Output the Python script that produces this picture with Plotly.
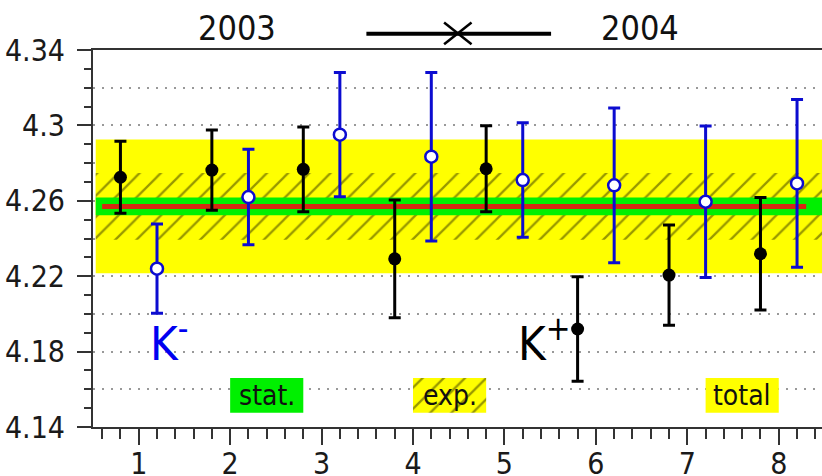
import plotly.graph_objects as go

# Measurements per run: K+ (filled black) and K- (open blue)
kplus_x = [0.8, 1.8, 2.8, 3.8, 4.8, 5.8, 6.8, 7.8]
kplus_y = [4.2725, 4.2763, 4.2767, 4.2292, 4.2770, 4.1920, 4.2206, 4.2319]
kplus_err = [0.0191, 0.0213, 0.0225, 0.0312, 0.0228, 0.0277, 0.0266, 0.0298]

kminus_x = [1.2, 2.2, 3.2, 4.2, 5.2, 6.2, 7.2, 8.2]
kminus_y = [4.2240, 4.2620, 4.2951, 4.2834, 4.2710, 4.2682, 4.2595, 4.2692]
kminus_err = [0.0237, 0.0253, 0.0329, 0.0447, 0.0304, 0.0410, 0.0402, 0.0445]

# Combined average and its uncertainty bands
mean_value = 4.257
stat_err = 0.0047
exp_err = 0.0177
total_err = 0.0355

year_labels = ["2003", "2004"]
band_labels = ["stat.", "exp.", "total"]

FONT = "Liberation Sans Narrow, Arial Narrow, DejaVu Sans Condensed, sans-serif"
YELLOW = "#ffff00"
GREEN = "#00f000"
BLUE = "#0c0cd0"
RED = "#d42a12"
HATCH = "#303000"
HATCH_PATTERN = dict(shape="/", fgcolor=HATCH, bgcolor=YELLOW, size=15, solidity=0.15)

x_lo, x_hi = 0.53, 8.6
line_lo, line_hi = 0.6, 8.3


def band(center, half, x0, x1):
    return ([x0, x1, x1, x0, x0],
            [center - half, center - half, center + half, center + half, center - half])


fig = go.Figure()

# total uncertainty band
bx, by = band(mean_value, total_err, x_lo, x_hi)
fig.add_trace(go.Scatter(x=bx, y=by, fill="toself", fillcolor=YELLOW,
                         line=dict(width=0), mode="lines", hoverinfo="skip"))
# experimental (hatched) band
bx, by = band(mean_value, exp_err, x_lo, x_hi)
fig.add_trace(go.Scatter(x=bx, y=by, fill="toself", fillcolor=YELLOW,
                         fillpattern=HATCH_PATTERN,
                         line=dict(width=0), mode="lines", hoverinfo="skip"))
# statistical band
bx, by = band(mean_value, stat_err, x_lo, x_hi)
fig.add_trace(go.Scatter(x=bx, y=by, fill="toself", fillcolor=GREEN,
                         line=dict(width=0), mode="lines", hoverinfo="skip"))
# average line
fig.add_trace(go.Scatter(x=[line_lo, line_hi], y=[mean_value, mean_value], mode="lines",
                         line=dict(color=RED, width=5), hoverinfo="skip"))

# legend boxes for the three bands
box_y0, box_y1 = 4.1476, 4.166
box_x = [(2.0, 2.8), (4.0, 4.8), (7.2, 8.0)]
box_fill = [GREEN, YELLOW, YELLOW]
for i, (x0, x1) in enumerate(box_x):
    kw = {}
    if band_labels[i] == "exp.":
        kw["fillpattern"] = HATCH_PATTERN
    fig.add_trace(go.Scatter(x=[x0, x1, x1, x0, x0], y=[box_y0, box_y0, box_y1, box_y1, box_y0],
                             fill="toself", fillcolor=box_fill[i], line=dict(width=0),
                             mode="lines", hoverinfo="skip", **kw))
    fig.add_annotation(x=(x0 + x1) / 2, y=(box_y0 + box_y1) / 2, text=band_labels[i],
                       showarrow=False, font=dict(family=FONT, size=28, color="#111"),
                       xanchor="center", yanchor="middle")

# data points
fig.add_trace(go.Scatter(
    x=kplus_x, y=kplus_y, mode="markers",
    marker=dict(symbol="circle", size=13, color="black"),
    error_y=dict(type="data", array=kplus_err, color="black", thickness=3, width=6)))
fig.add_trace(go.Scatter(
    x=kminus_x, y=kminus_y, mode="markers",
    marker=dict(symbol="circle", size=12, color="white", line=dict(color=BLUE, width=2.5)),
    error_y=dict(type="data", array=kminus_err, color=BLUE, thickness=3, width=6)))

# K labels
fig.add_annotation(x=1.1, y=4.186, text="K<sup>-</sup>", showarrow=False,
                   xanchor="left", yanchor="middle",
                   font=dict(family=FONT, size=47, color="#0000f0"))
fig.add_annotation(x=5.13, y=4.186, text="K<sup>+</sup>", showarrow=False,
                   xanchor="left", yanchor="middle",
                   font=dict(family=FONT, size=47, color="black"))

# year labels and the separator with a cross above the frame
for xpos, label in zip([2.07, 6.48], year_labels):
    fig.add_annotation(x=xpos, y=1.058, yref="paper", text=label, showarrow=False,
                       xanchor="center", yanchor="middle",
                       font=dict(family=FONT, size=34, color="#111"))
fig.add_shape(type="line", x0=3.49, x1=5.51, y0=1.043, y1=1.043, yref="paper",
              line=dict(color="black", width=4))
fig.add_shape(type="line", x0=4.34, x1=4.64, y0=1.015, y1=1.073, yref="paper",
              line=dict(color="black", width=2.5))
fig.add_shape(type="line", x0=4.34, x1=4.64, y0=1.073, y1=1.015, yref="paper",
              line=dict(color="black", width=2.5))

tick_font = dict(family=FONT, size=30, color="#1a1a1a")

fig.update_layout(
    width=822, height=476,
    margin=dict(l=93, r=0, t=50, b=49),
    paper_bgcolor="white", plot_bgcolor="white",
    showlegend=False,
    xaxis=dict(range=[0.5, 8.473], showgrid=False, zeroline=False, automargin=False,
               showline=True, linecolor="#333", linewidth=2, mirror=True,
               ticks="outside", tickmode="linear", tick0=0, dtick=1, ticklen=16,
               tickwidth=2, tickcolor="#333", tickfont=tick_font, ticklabelstandoff=-7,
               minor=dict(tick0=0, dtick=0.2, ticks="outside", ticklen=10,
                          tickwidth=1.5, tickcolor="#333")),
    yaxis=dict(range=[4.14, 4.34], showgrid=False, zeroline=False, automargin=False,
               showline=True, linecolor="#333", linewidth=2,
               ticks="outside", tickmode="linear", tick0=4.14, dtick=0.04, ticklen=14,
               tickwidth=2, tickcolor="#333", tickfont=tick_font, ticklabelstandoff=6,
               tickformat="~g",
               minor=dict(tick0=4.14, dtick=0.01, ticks="outside", ticklen=7,
                          tickwidth=1.5, tickcolor="#333")),
    yaxis2=dict(range=[4.14, 4.34], overlaying="y", tickmode="linear", tick0=4.14,
                dtick=0.02, showgrid=True, gridcolor="#999", griddash="2px,7px", gridwidth=1.5,
                showticklabels=False, ticks="", showline=False, zeroline=False,
                automargin=False),
)
# anchor an empty trace to the grid axis so it is rendered
fig.add_trace(go.Scatter(x=[None], y=[None], yaxis="y2", hoverinfo="skip"))

fig.write_html("out.html")
